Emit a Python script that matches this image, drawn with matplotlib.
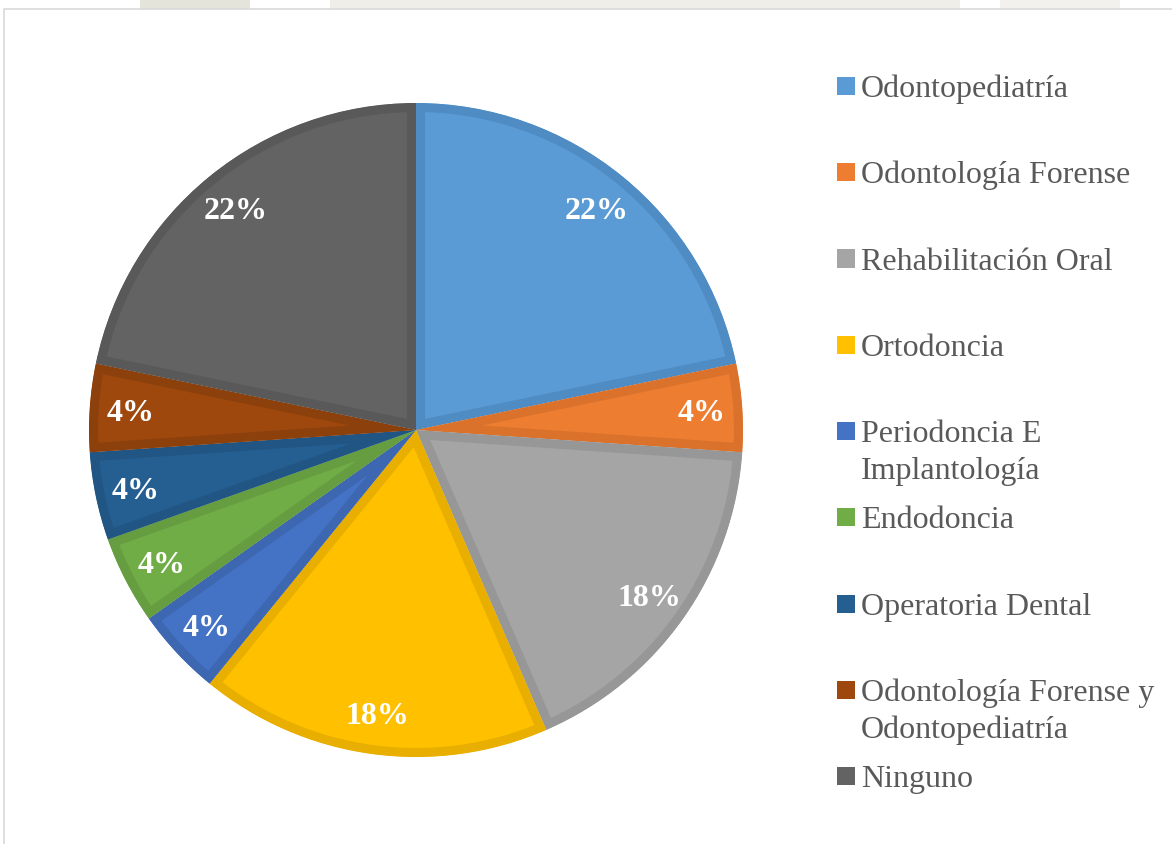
#!/usr/bin/env python3
# -*- coding: utf-8 -*-
"""
Pie chart of specialty preference, Excel look
"""

import matplotlib.pyplot as plt
from matplotlib.patches import Rectangle

plt.rcParams['font.family'] = ['Liberation Serif', 'DejaVu Serif']

LABELS = [
    'Odontopediatría',
    'Odontología Forense',
    'Rehabilitación Oral',
    'Ortodoncia',
    'Periodoncia E\nImplantología',
    'Endodoncia',
    'Operatoria Dental',
    'Odontología Forense y\nOdontopediatría',
    'Ninguno',
]
COUNTS = [5, 1, 4, 4, 1, 1, 1, 1, 5]
# percentages as printed on the chart
PCT_TEXT = ['22%', '4%', '18%', '18%', '4%', '4%', '4%', '4%', '22%']

FILL = ['#5B9BD5', '#ED7D31', '#A5A5A5', '#FFC000', '#4472C4',
        '#70AD47', '#255E91', '#9E480E', '#636363']
EDGE = ['#4F8CC4', '#DA722C', '#979797', '#E8AF00', '#3E67B2',
        '#669D40', '#215584', '#8C400C', '#595959']

W, H, DPI = 1172, 844, 100
fig = plt.figure(figsize=(W / DPI, H / DPI), dpi=DPI)

# faint watermark strip above the chart area
for x0, x1, c in [(140, 250, '#E4E4DA'), (330, 960, '#EFEEE9'), (1000, 1120, '#F2F1ED')]:
    fig.patches.append(Rectangle((x0 / W, (H - 9) / H), (x1 - x0) / W, 9 / H,
                                 transform=fig.transFigure, facecolor=c,
                                 edgecolor='none'))

# chart area border
fig.patches.append(Rectangle((4 / W, -0.01), 1.0, (H - 9) / H + 0.01,
                             transform=fig.transFigure, fill=False,
                             edgecolor='#D9D9D9', linewidth=1.2))

cx, cy, r = 416, 430, 327
ax = fig.add_axes([(cx - r) / W, (H - cy - r) / H, 2 * r / W, 2 * r / H])

pct_iter = iter(PCT_TEXT)
wedges, texts, autotexts = ax.pie(
    COUNTS, colors=FILL, startangle=90, counterclock=False,
    autopct=lambda p: next(pct_iter), pctdistance=0.875,
    wedgeprops=dict(linewidth=13, joinstyle='miter'),
    textprops=dict(color='white', fontsize=23, fontweight='bold'))

# keep only the inner half of each border (inset stroke)
for w, ec in zip(wedges, EDGE):
    w.set_edgecolor(ec)
    w.set_clip_on(True)
    w.set_clip_path(w)

for t in autotexts:
    t.set_va('center_baseline')

ax.set_xlim(-1, 1)
ax.set_ylim(-1, 1)
ax.set_aspect('equal')

# legend drawn by hand, Excel style
for i, (lab, col) in enumerate(zip(LABELS, FILL)):
    yc = 86 + i * 86.25
    sq = 18
    fig.patches.append(Rectangle((837 / W, (H - yc - sq / 2) / H), sq / W, sq / H,
                                 transform=fig.transFigure, facecolor=col,
                                 edgecolor='none'))
    for j, line in enumerate(lab.split('\n')):
        yb = yc + 11 + j * 37
        fig.text(861 / W, (H - yb) / H, line, fontsize=23, color='#595959',
                 va='baseline', ha='left')

plt.savefig('out.png', dpi=DPI)
